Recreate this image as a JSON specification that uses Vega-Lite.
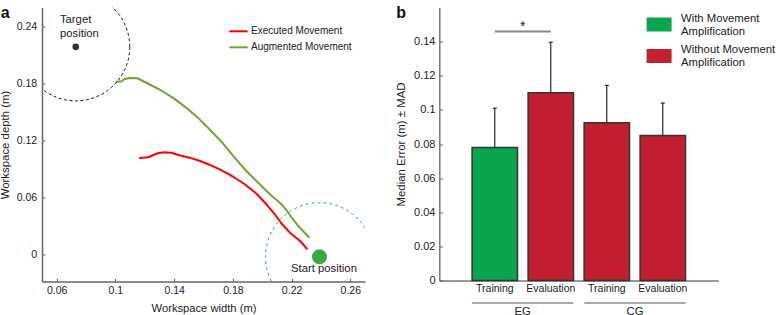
{
  "$schema": "https://vega.github.io/schema/vega-lite/v6.json",
  "padding": {"left": -1, "top": 4.5, "right": 0, "bottom": 0},
  "spacing": 74.3,
  "bounds": "flush",
  "config": {
    "view": {"stroke": null},
    "font": "Liberation Sans",
    "axis": {"grid": false, "labelColor": "#222", "titleColor": "#222", "titleFontWeight": "normal", "labelFont": "Liberation Sans", "titleFont": "Liberation Sans", "labelOverlap": false},
    "legend": {"labelFont": "Liberation Sans", "labelColor": "#222"}
  },
  "datasets": {
    "traj": [
      {"movement": "Augmented Movement", "x": 0.1002, "y": 0.1815},
      {"movement": "Augmented Movement", "x": 0.1043, "y": 0.1823},
      {"movement": "Augmented Movement", "x": 0.1059, "y": 0.1843},
      {"movement": "Augmented Movement", "x": 0.1093, "y": 0.1857},
      {"movement": "Augmented Movement", "x": 0.115, "y": 0.1854},
      {"movement": "Augmented Movement", "x": 0.123, "y": 0.1791},
      {"movement": "Augmented Movement", "x": 0.131, "y": 0.1728},
      {"movement": "Augmented Movement", "x": 0.1401, "y": 0.164},
      {"movement": "Augmented Movement", "x": 0.1481, "y": 0.1546},
      {"movement": "Augmented Movement", "x": 0.1561, "y": 0.1441},
      {"movement": "Augmented Movement", "x": 0.1641, "y": 0.1319},
      {"movement": "Augmented Movement", "x": 0.1732, "y": 0.1172},
      {"movement": "Augmented Movement", "x": 0.1812, "y": 0.1021},
      {"movement": "Augmented Movement", "x": 0.1892, "y": 0.0881},
      {"movement": "Augmented Movement", "x": 0.1961, "y": 0.0776},
      {"movement": "Augmented Movement", "x": 0.2052, "y": 0.0637},
      {"movement": "Augmented Movement", "x": 0.2132, "y": 0.0532},
      {"movement": "Augmented Movement", "x": 0.2166, "y": 0.0469},
      {"movement": "Augmented Movement", "x": 0.2201, "y": 0.0391},
      {"movement": "Augmented Movement", "x": 0.2246, "y": 0.0304},
      {"movement": "Augmented Movement", "x": 0.2321, "y": 0.0181},
      {"movement": "Executed Movement", "x": 0.1162, "y": 0.1018},
      {"movement": "Executed Movement", "x": 0.1225, "y": 0.1025},
      {"movement": "Executed Movement", "x": 0.1287, "y": 0.1067},
      {"movement": "Executed Movement", "x": 0.1333, "y": 0.1077},
      {"movement": "Executed Movement", "x": 0.1379, "y": 0.1073},
      {"movement": "Executed Movement", "x": 0.1436, "y": 0.1046},
      {"movement": "Executed Movement", "x": 0.1504, "y": 0.1021},
      {"movement": "Executed Movement", "x": 0.1573, "y": 0.0989},
      {"movement": "Executed Movement", "x": 0.1641, "y": 0.0947},
      {"movement": "Executed Movement", "x": 0.171, "y": 0.0899},
      {"movement": "Executed Movement", "x": 0.1778, "y": 0.0842},
      {"movement": "Executed Movement", "x": 0.1847, "y": 0.0776},
      {"movement": "Executed Movement", "x": 0.1881, "y": 0.0742},
      {"movement": "Executed Movement", "x": 0.1961, "y": 0.0643},
      {"movement": "Executed Movement", "x": 0.2029, "y": 0.0532},
      {"movement": "Executed Movement", "x": 0.2086, "y": 0.0427},
      {"movement": "Executed Movement", "x": 0.2132, "y": 0.0328},
      {"movement": "Executed Movement", "x": 0.2189, "y": 0.0234},
      {"movement": "Executed Movement", "x": 0.2258, "y": 0.0147},
      {"movement": "Executed Movement", "x": 0.2308, "y": 0.006}
    ],
    "pts": [
      {"name": "Target position", "x": 0.073, "y": 0.2183},
      {"name": "Start position", "x": 0.239, "y": -0.0018}
    ],
    "bars": [
      {"bar": "EG Training", "group": "EG", "amp": "With Movement Amplification", "median": 0.078, "upper": 0.101},
      {"bar": "EG Evaluation", "group": "EG", "amp": "Without Movement Amplification", "median": 0.11, "upper": 0.1397},
      {"bar": "CG Training", "group": "CG", "amp": "Without Movement Amplification", "median": 0.0925, "upper": 0.1144},
      {"bar": "CG Evaluation", "group": "CG", "amp": "Without Movement Amplification", "median": 0.085, "upper": 0.104}
    ],
    "groups": [
      {"group": "EG"},
      {"group": "CG"}
    ]
  },
  "hconcat": [
    {
      "width": 323,
      "height": 274,
      "title": {"text": "a", "anchor": "start", "frame": "group", "dx": -41.3, "dy": 26.7, "offset": 0, "baseline": "alphabetic", "fontSize": 16, "fontWeight": "bold", "font": "Liberation Sans", "color": "#111"},
      "layer": [
        {
          "data": {"name": "traj"},
          "mark": {"type": "line", "strokeWidth": 2, "strokeJoin": "round"},
          "encoding": {
            "x": {"field": "x", "type": "quantitative", "scale": {"domain": [0.05, 0.27], "nice": false, "zero": false},
              "axis": {"title": "Workspace width (m)", "values": [0.06, 0.1, 0.14, 0.18, 0.22, 0.26], "format": "~g", "tickSize": -3, "labelPadding": 7, "titlePadding": 6, "domainColor": "#666", "domainWidth": 1.5, "tickColor": "#666", "labelFontSize": 10.5, "titleFontSize": 11.2}},
            "y": {"field": "y", "type": "quantitative", "scale": {"domain": [-0.0278, 0.2596], "nice": false, "zero": false},
              "axis": {"title": "Workspace depth (m)", "values": [0, 0.06, 0.12, 0.18, 0.24], "format": "~g", "tickSize": -3, "labelPadding": 8.4, "titlePadding": 6, "domainColor": "#666", "domainWidth": 1.5, "tickColor": "#666", "labelFontSize": 10.5, "titleFontSize": 11.4}},
            "color": {"field": "movement", "type": "nominal",
              "scale": {"domain": ["Executed Movement", "Augmented Movement"], "range": ["#ff0000", "#6ea630"]},
              "legend": {"orient": "none", "legendX": 186, "legendY": 13.3, "title": null, "symbolType": "stroke", "symbolSize": 335, "symbolStrokeWidth": 2, "labelOffset": 2, "rowPadding": -20, "padding": 0, "labelFontSize": 10}}
          }
        },
        {
          "data": {"name": "pts"},
          "transform": [{"filter": "datum.name === 'Target position'"}],
          "mark": {"type": "point", "shape": "circle", "size": 11664, "filled": false, "color": "#111", "stroke": "#111", "strokeWidth": 1, "strokeDash": [3, 2.5], "opacity": 1, "clip": true},
          "encoding": {
            "x": {"field": "x", "type": "quantitative"},
            "y": {"field": "y", "type": "quantitative"}
          }
        },
        {
          "data": {"name": "pts"},
          "transform": [{"filter": "datum.name === 'Start position'"}],
          "mark": {"type": "point", "shape": "circle", "size": 11664, "filled": false, "color": "#3aa843", "stroke": "#3aa843", "strokeWidth": 1, "strokeDash": [3, 3], "opacity": 1, "clip": true},
          "encoding": {
            "x": {"field": "x", "type": "quantitative"},
            "y": {"field": "y", "type": "quantitative"}
          }
        },
        {
          "data": {"name": "pts"},
          "transform": [{"filter": "datum.name === 'Target position'"}],
          "mark": {"type": "point", "shape": "circle", "size": 45, "filled": true, "color": "#333", "opacity": 1},
          "encoding": {
            "x": {"field": "x", "type": "quantitative"},
            "y": {"field": "y", "type": "quantitative"}
          }
        },
        {
          "data": {"name": "pts"},
          "transform": [{"filter": "datum.name === 'Start position'"}],
          "mark": {"type": "point", "shape": "circle", "size": 225, "filled": true, "color": "#3aa843", "opacity": 1},
          "encoding": {
            "x": {"field": "x", "type": "quantitative"},
            "y": {"field": "y", "type": "quantitative"}
          }
        },
        {
          "data": {"values": [{}]},
          "mark": {"type": "text", "text": ["Target", "position"], "align": "left", "baseline": "middle", "fontSize": 11.3, "lineHeight": 14, "color": "#222"},
          "encoding": {
            "x": {"datum": 0.0622, "type": "quantitative"},
            "y": {"datum": 0.2464, "type": "quantitative"}
          }
        },
        {
          "data": {"values": [{}]},
          "mark": {"type": "text", "text": "Start position", "align": "left", "baseline": "middle", "fontSize": 11.3, "color": "#222"},
          "encoding": {
            "x": {"datum": 0.2196, "type": "quantitative"},
            "y": {"datum": -0.0146, "type": "quantitative"}
          }
        }
      ]
    },
    {
      "width": 279,
      "height": 273,
      "title": {"text": "b", "anchor": "start", "frame": "group", "dx": -43, "dy": 26.7, "offset": 0, "baseline": "alphabetic", "fontSize": 16, "fontWeight": "bold", "font": "Liberation Sans", "color": "#111"},
      "layer": [
        {
          "layer": [
            {
              "data": {"name": "bars"},
              "mark": {"type": "bar", "stroke": "#333", "strokeWidth": 1.5},
              "encoding": {
                "x": {"field": "bar", "type": "nominal", "sort": null,
                  "scale": {"domain": ["EG Training", "EG Evaluation", "CG Training", "CG Evaluation"], "paddingInner": 0.19, "paddingOuter": 0.586},
                  "axis": {"title": null, "labelExpr": "split(datum.label, ' ')[1]", "ticks": false, "labelAngle": 0, "labelPadding": 3, "labelFontSize": 10.5, "domainColor": "#777", "domainWidth": 1.5}},
                "y": {"field": "median", "type": "quantitative", "scale": {"domain": [0, 0.16], "nice": false},
                  "axis": {"title": "Median Error (m) ± MAD", "values": [0, 0.02, 0.04, 0.06, 0.08, 0.1, 0.12, 0.14], "format": "~g", "labelOverlap": false, "tickSize": -3, "labelPadding": 7.3, "titlePadding": 7, "domainColor": "#777", "domainWidth": 1.5, "tickColor": "#555", "labelFontSize": 11, "titleFontSize": 11.4}},
                "fill": {"field": "amp", "type": "nominal",
                  "scale": {"domain": ["With Movement Amplification", "Without Movement Amplification"], "range": ["#0ba54f", "#c21f30"]},
                  "legend": {"orient": "none", "legendX": 604.6, "legendY": 4.5, "title": null, "symbolType": "M-1,-0.56L1,-0.56L1,0.56L-1,0.56Z", "symbolSize": 625, "symbolStrokeWidth": 0, "symbolOpacity": 1, "labelOffset": 9.4, "rowPadding": 5.5, "padding": 0, "labelFontSize": 11.3, "labelBaseline": "line-bottom",
                    "labelExpr": "datum.label == 'With Movement Amplification' ? ['With Movement', 'Amplification'] : ['Without Movement', 'Amplification']",
                    "encode": {"labels": {"update": {"lineHeight": {"value": 14.3}}}}}}
              }
            },
            {
              "data": {"name": "bars"},
              "mark": {"type": "rule", "color": "#000", "strokeWidth": 1},
              "encoding": {
                "x": {"field": "bar", "type": "nominal", "sort": null},
                "y": {"field": "median", "type": "quantitative", "scale": {"domain": [0, 0.16], "nice": false},
                  "axis": {"title": "Median Error (m) ± MAD", "values": [0, 0.02, 0.04, 0.06, 0.08, 0.1, 0.12, 0.14], "format": "~g", "labelOverlap": false, "tickSize": -3, "labelPadding": 7.3, "titlePadding": 7, "domainColor": "#777", "domainWidth": 1.5, "tickColor": "#555", "labelFontSize": 11, "titleFontSize": 11.4}},
                "y2": {"field": "upper"}
              }
            },
            {
              "data": {"name": "bars"},
              "mark": {"type": "tick", "color": "#000", "size": 4, "thickness": 1, "opacity": 1},
              "encoding": {
                "x": {"field": "bar", "type": "nominal", "sort": null},
                "y": {"field": "upper", "type": "quantitative", "scale": {"domain": [0, 0.16], "nice": false},
                  "axis": {"title": "Median Error (m) ± MAD", "values": [0, 0.02, 0.04, 0.06, 0.08, 0.1, 0.12, 0.14], "format": "~g", "labelOverlap": false, "tickSize": -3, "labelPadding": 7.3, "titlePadding": 7, "domainColor": "#777", "domainWidth": 1.5, "tickColor": "#555", "labelFontSize": 11, "titleFontSize": 11.4}}
              }
            },
            {
              "data": {"values": [{}]},
              "mark": {"type": "rule", "color": "#888", "strokeWidth": 2},
              "encoding": {
                "x": {"datum": "EG Training", "type": "nominal"},
                "x2": {"datum": "EG Evaluation"},
                "y": {"datum": 0.1459, "type": "quantitative", "scale": {"domain": [0, 0.16], "nice": false},
                  "axis": {"title": "Median Error (m) ± MAD", "values": [0, 0.02, 0.04, 0.06, 0.08, 0.1, 0.12, 0.14], "format": "~g", "labelOverlap": false, "tickSize": -3, "labelPadding": 7.3, "titlePadding": 7, "domainColor": "#777", "domainWidth": 1.5, "tickColor": "#555", "labelFontSize": 11, "titleFontSize": 11.4}}
              }
            }
          ]
        },
        {
          "layer": [
            {
              "data": {"name": "groups"},
              "mark": {"type": "rect", "color": "#555"},
              "encoding": {
                "x": {"field": "group", "type": "nominal", "sort": null, "scale": {"domain": ["EG", "CG"], "paddingInner": 0.098, "paddingOuter": 0.29}, "axis": null},
                "y": {"datum": -0.0129, "type": "quantitative", "scale": {"domain": [0, 0.16], "nice": false},
                  "axis": {"title": "Median Error (m) ± MAD", "values": [0, 0.02, 0.04, 0.06, 0.08, 0.1, 0.12, 0.14], "format": "~g", "labelOverlap": false, "tickSize": -3, "labelPadding": 7.3, "titlePadding": 7, "domainColor": "#777", "domainWidth": 1.5, "tickColor": "#555", "labelFontSize": 11, "titleFontSize": 11.4}},
                "y2": {"datum": -0.0135}
              }
            },
            {
              "data": {"name": "groups"},
              "mark": {"type": "text", "baseline": "middle", "align": "center", "fontSize": 11.3, "color": "#222"},
              "encoding": {
                "x": {"field": "group", "type": "nominal", "sort": null, "axis": null},
                "y": {"datum": -0.0182, "type": "quantitative", "scale": {"domain": [0, 0.16], "nice": false},
                  "axis": {"title": "Median Error (m) ± MAD", "values": [0, 0.02, 0.04, 0.06, 0.08, 0.1, 0.12, 0.14], "format": "~g", "labelOverlap": false, "tickSize": -3, "labelPadding": 7.3, "titlePadding": 7, "domainColor": "#777", "domainWidth": 1.5, "tickColor": "#555", "labelFontSize": 11, "titleFontSize": 11.4}},
                "text": {"field": "group"}
              }
            },
            {
              "data": {"values": [{}]},
              "mark": {"type": "text", "text": "*", "baseline": "middle", "align": "center", "fontSize": 14, "color": "#222"},
              "encoding": {
                "x": {"datum": "EG", "type": "nominal", "axis": null},
                "y": {"datum": 0.1487, "type": "quantitative", "scale": {"domain": [0, 0.16], "nice": false},
                  "axis": {"title": "Median Error (m) ± MAD", "values": [0, 0.02, 0.04, 0.06, 0.08, 0.1, 0.12, 0.14], "format": "~g", "labelOverlap": false, "tickSize": -3, "labelPadding": 7.3, "titlePadding": 7, "domainColor": "#777", "domainWidth": 1.5, "tickColor": "#555", "labelFontSize": 11, "titleFontSize": 11.4}}
              }
            }
          ]
        }
      ],
      "resolve": {"scale": {"x": "independent"}}
    }
  ]
}
